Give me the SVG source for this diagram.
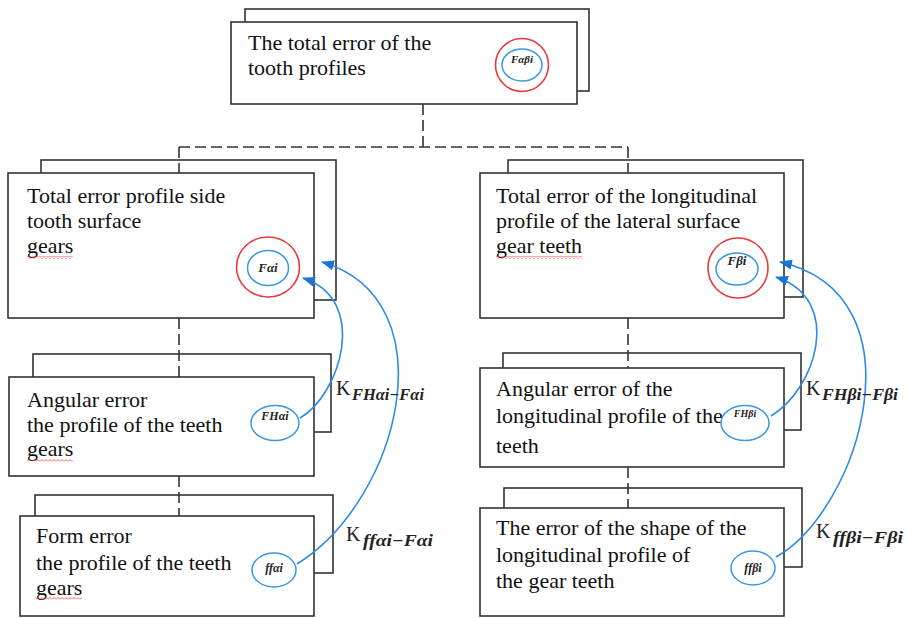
<svg xmlns="http://www.w3.org/2000/svg" width="907" height="618" viewBox="0 0 907 618">
<style>
.box{fill:#fff;stroke:#333;stroke-width:1.6}
.t{font-family:"Liberation Serif","Times New Roman",serif;font-size:22px;fill:#111}
.red{fill:none;stroke:#e8383c;stroke-width:1.6}
.blue{fill:none;stroke:#3b96e0;stroke-width:1.5}
.sym{font-family:"Liberation Serif","Times New Roman",serif;font-style:italic;font-weight:bold;fill:#222;text-anchor:middle}
.dash{fill:none;stroke:#333;stroke-width:1.6;stroke-dasharray:11 5}
.curve{fill:none;stroke:#2f8ae0;stroke-width:1.6;marker-end:url(#ah)}
.k{font-family:"Liberation Serif","Times New Roman",serif;font-size:20px;fill:#222}
.ks{font-family:"Liberation Serif","Times New Roman",serif;font-size:16px;font-style:italic;font-weight:bold;fill:#222}
</style>
<defs>
<marker id="ah" viewBox="0 0 13 10" refX="12" refY="5" markerWidth="13" markerHeight="10" markerUnits="userSpaceOnUse" orient="auto">
<path d="M0,0 L13,5 L0,10 z" fill="#1a74d4"/>
</marker>
<pattern id="sq" width="4" height="3" patternUnits="userSpaceOnUse">
<path d="M0,2.5 L2,0.5 L4,2.5" fill="none" stroke="#e33" stroke-width="0.8"/>
</pattern>
</defs>
<rect width="907" height="618" fill="#fff"/>

<g id="node-total">
<rect class="box" x="245" y="9" width="344" height="82"/>
<rect class="box" x="231" y="22" width="346" height="82"/>
<text class="t" x="248" y="50">The total error of the</text>
<text class="t" x="248" y="75">tooth profiles</text>
<circle class="red" cx="522" cy="65" r="26.5"/>
<ellipse class="blue" cx="522" cy="65" rx="20" ry="16"/>
<text class="sym" x="522" y="63" font-size="11">Fαβi</text>
</g>

<g id="node-profile-total">
<rect class="box" x="41" y="160" width="295" height="140"/>
<rect class="box" x="8" y="173" width="306" height="145"/>
<text class="t" x="27" y="203">Total error profile side</text>
<text class="t" x="27" y="228">tooth surface</text>
<text class="t" x="27" y="253">gears</text>
<rect x="27" y="256" width="46" height="3" fill="url(#sq)"/>
<ellipse class="red" cx="268" cy="267" rx="31.5" ry="30"/>
<ellipse class="blue" cx="268" cy="268" rx="20.5" ry="17.5"/>
<text class="sym" x="268" y="272" font-size="13">Fαi</text>
</g>

<g id="node-longitudinal-total">
<rect class="box" x="508" y="160" width="295" height="137"/>
<rect class="box" x="480" y="173" width="304" height="145"/>
<text class="t" x="496" y="203">Total error of the longitudinal</text>
<text class="t" x="496" y="228">profile of the lateral  surface</text>
<text class="t" x="496" y="253">gear teeth</text>
<rect x="496" y="256" width="86" height="3" fill="url(#sq)"/>
<circle class="red" cx="738" cy="268" r="30"/>
<ellipse class="blue" cx="737" cy="269" rx="21" ry="16"/>
<text class="sym" x="737" y="265" font-size="13">Fβi</text>
</g>

<g id="node-profile-angular">
<rect class="box" x="33" y="354" width="298" height="78"/>
<rect class="box" x="9" y="377" width="305" height="99"/>
<text class="t" x="27" y="407">Angular error</text>
<text class="t" x="27" y="432">the profile of the teeth</text>
<text class="t" x="27" y="456">gears</text>
<rect x="27" y="459" width="46" height="3" fill="url(#sq)"/>
<ellipse class="blue" cx="275" cy="423" rx="24" ry="17.5"/>
<text class="sym" x="275" y="420" font-size="12">FHαi</text>
</g>

<g id="node-profile-form">
<rect class="box" x="35" y="495" width="298" height="78"/>
<rect class="box" x="20" y="516" width="294" height="100"/>
<text class="t" x="36" y="543">Form error</text>
<text class="t" x="36" y="570">the profile of the teeth</text>
<text class="t" x="36" y="595">gears</text>
<rect x="36" y="597" width="46" height="3" fill="url(#sq)"/>
<ellipse class="blue" cx="274" cy="570" rx="22" ry="17"/>
<text class="sym" x="274" y="572" font-size="12">ffαi</text>
</g>

<g id="node-longitudinal-angular">
<rect class="box" x="503" y="353" width="298" height="77"/>
<rect class="box" x="480" y="368" width="304" height="99"/>
<text class="t" x="496" y="396">Angular error of the</text>
<text class="t" x="496" y="423">longitudinal profile of the</text>
<text class="t" x="496" y="453">teeth</text>
<ellipse class="blue" cx="745" cy="423" rx="24" ry="17.5"/>
<text class="sym" x="745" y="417" font-size="10">FHβi</text>
</g>

<g id="node-longitudinal-shape">
<rect class="box" x="504" y="488" width="298" height="79"/>
<rect class="box" x="480" y="508" width="304" height="108"/>
<text class="t" x="496" y="535">The error of the shape of the</text>
<text class="t" x="496" y="562">longitudinal profile of</text>
<text class="t" x="496" y="588">the gear teeth</text>
<ellipse class="blue" cx="753" cy="568" rx="22" ry="17"/>
<text class="sym" x="753" y="572" font-size="12">ffβi</text>
</g>

<g id="connectors">
<path class="dash" d="M423,104 V147 M179,147 H628 M179,147 V173 M628,147 V173"/>
<path class="dash" d="M179,318 V377 M179,476 V516 M628,318 V368 M628,467 V508"/>
<path class="curve" d="M300,418 C340,395 370,300 303,278"/>
<path class="curve" d="M297,564 C400,500 450,300 322,262"/>
<path class="curve" d="M771,416 C815,390 845,300 776,277"/>
<path class="curve" d="M776,557 C860,510 925,295 780,262"/>
<text class="k" x="336" y="395">K</text>
<text class="ks" x="352" y="400" textLength="72" lengthAdjust="spacingAndGlyphs">FHαi−Fαi</text>
<text class="k" x="346" y="541">K</text>
<text class="ks" x="363" y="546" textLength="70" lengthAdjust="spacingAndGlyphs">ffαi−Fαi</text>
<text class="k" x="806" y="395">K</text>
<text class="ks" x="822" y="400" textLength="76" lengthAdjust="spacingAndGlyphs">FHβi−Fβi</text>
<text class="k" x="816" y="538">K</text>
<text class="ks" x="833" y="543" textLength="70" lengthAdjust="spacingAndGlyphs">ffβi−Fβi</text>
</g>
</svg>
